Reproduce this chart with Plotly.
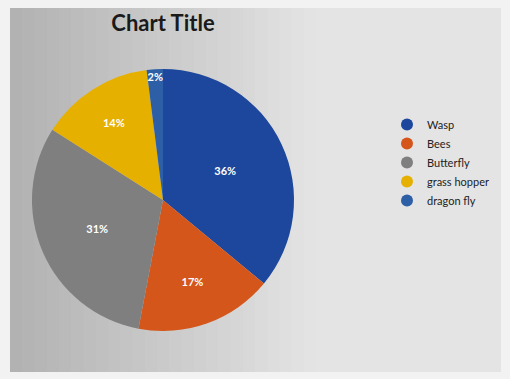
import plotly.graph_objects as go

labels = ["Wasp", "Bees", "Butterfly", "grass hopper", "dragon fly"]
values = [36, 17, 31, 14, 2]
colors = ["#1c479c", "#d4561b", "#7f7f7f", "#e6b000", "#2d5fa6"]

W, H = 510, 379
fig = go.Figure()

# pie
cx, cy, r = 163, 200, 131
fig.add_trace(go.Pie(
    labels=labels, values=values, sort=False, direction="clockwise", rotation=0,
    marker=dict(colors=colors, line=dict(width=0)),
    texttemplate="<b>%{percent:.0%}</b>", textposition="inside", insidetextorientation="horizontal",
    textfont=dict(color="white", size=11, family="Lato"),
    showlegend=False, hoverinfo="label+percent",
    domain=dict(x=[(cx - r) / W, (cx + r) / W], y=[(H - cy - r) / H, (H - cy + r) / H]),
))

# legend with circle markers
for lab, col in zip(labels, colors):
    fig.add_trace(go.Scatter(x=[None], y=[None], mode="markers", name=lab,
                             marker=dict(symbol="circle", size=9, color=col)))

# gray gradient background of the chart area (photo)
shapes = []
x0, x1, y0, y1 = 10, 500, 8, 372
n = 40
for i in range(n):
    t = i / (n - 1)
    g = int(178 + (228 - 178) * min(1, t * 1.6))
    xa = x0 + (x1 - x0) * i / n
    xb = x0 + (x1 - x0) * (i + 1) / n + 1
    shapes.append(dict(type="rect", xref="paper", yref="paper", layer="below",
                       x0=xa / W, x1=xb / W, y0=1 - y1 / H, y1=1 - y0 / H,
                       fillcolor=f"rgb({g},{g},{g})", line=dict(width=0)))

fig.update_layout(
    width=W, height=H, margin=dict(l=0, r=0, t=0, b=0),
    paper_bgcolor="#f2f2f2", plot_bgcolor="rgba(0,0,0,0)",
    uniformtext=dict(minsize=10, mode="show"),
    xaxis=dict(visible=False, domain=[0.95, 1]), yaxis=dict(visible=False, domain=[0.95, 1]),
    title=dict(text="<b>Chart Title</b>", x=163 / W, xanchor="center", y=1 - 23 / H, yanchor="middle",
               font=dict(family="Lato", size=22, color="#1a1a1a")),
    legend=dict(x=387 / W, y=1 - 110 / H, xanchor="left", yanchor="top",
                font=dict(family="Lato", size=11, color="#222"), bgcolor="rgba(0,0,0,0)",
                tracegroupgap=0, itemsizing="constant", itemwidth=30),
    shapes=shapes,
)

fig.write_html("out.html")
